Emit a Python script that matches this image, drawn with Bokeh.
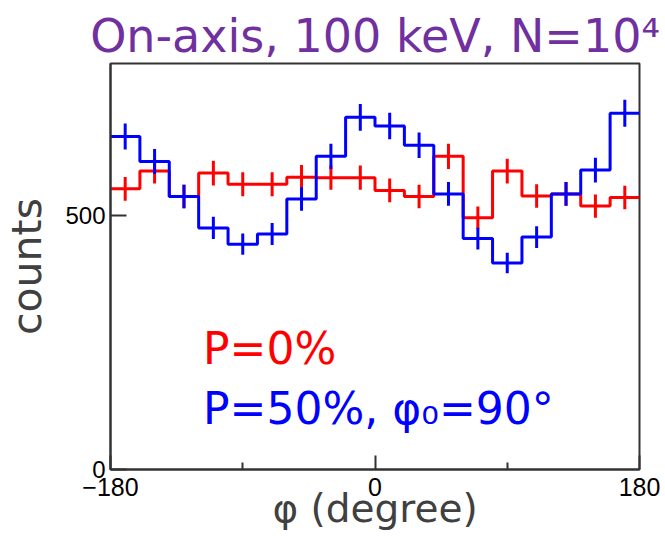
import numpy as np
from bokeh.plotting import figure
from bokeh.models import Range1d, FixedTicker, Label
from bokeh.embed import file_html
from bokeh.resources import INLINE

# ---- data ----
bin_edges = list(range(-180, 181, 20))          # 18 bins of 20 degrees
counts_p0 = [553, 588, 538, 584, 562, 562, 576, 575, 575, 550,
             538, 617, 496, 588, 539, 543, 519, 536]
counts_p50 = [656, 607, 538, 476, 444, 464, 533, 617, 694, 677,
              639, 543, 455, 407, 458, 543, 590, 702]
x_ticks = [-180, 0, 180]
x_minor = [-90, 90]
y_ticks = [0, 500]

TITLE = "On-axis, 100 keV, N=10\u2074"
XLABEL = "\u03c6 (degree)"
YLABEL = "counts"
LEG1 = "P=0%"
LEG2 = "P=50%, \u03c6\u2080=90\u00b0"

FONT = "DejaVu Sans"

p = figure(width=665, height=537, output_backend="svg", toolbar_location=None,
           x_range=Range1d(-180, 180), y_range=Range1d(0, 800),
           min_border_left=110, min_border_right=26, min_border_top=63,
           min_border_bottom=68)
p.background_fill_color = "white"
p.border_fill_color = "white"
p.xgrid.visible = False
p.ygrid.visible = False
p.outline_line_color = "#333333"
p.outline_line_width = 2

# title
p.title.text = TITLE
p.title.align = "center"
p.title.text_font = FONT
p.title.text_font_size = "46px"
p.title.text_font_style = "normal"
p.title.text_color = "#7030a0"
p.title.standoff = 2

edges = np.array(bin_edges, dtype=float)
centers = (edges[:-1] + edges[1:]) / 2


def draw_hist(vals, color):
    v = np.array(vals, dtype=float)
    err = np.sqrt(v)
    p.step(edges, np.append(v, v[-1]), mode="after", line_color=color,
           line_width=3)
    p.segment(centers, v - err, centers, v + err, line_color=color,
              line_width=3)


draw_hist(counts_p0, "#ff0000")
draw_hist(counts_p50, "#0000ff")

# axes
xa = p.xaxis[0]
xa.ticker = FixedTicker(ticks=x_ticks, minor_ticks=x_minor)
xa.major_label_overrides = {-180: "\u2212180", 0: "0", 180: "180"}
xa.major_tick_in = 14
xa.major_tick_out = 0
xa.minor_tick_in = 7
xa.minor_tick_out = 0
xa.major_label_standoff = 8
xa.major_label_text_font = "Liberation Sans"
xa.major_label_text_font_size = "25px"
xa.major_label_text_color = "black"
xa.axis_line_color = "#333333"
xa.axis_line_width = 2
xa.major_tick_line_color = "#333333"
xa.major_tick_line_width = 2
xa.minor_tick_line_color = "#333333"
xa.minor_tick_line_width = 2
xa.axis_label = XLABEL
xa.axis_label_text_font = FONT
xa.axis_label_text_font_style = "normal"
xa.axis_label_text_font_size = "39px"
xa.axis_label_text_color = "#404040"
xa.axis_label_standoff = -13

ya = p.yaxis[0]
ya.ticker = FixedTicker(ticks=y_ticks, minor_ticks=[])
ya.major_tick_in = 16
ya.major_tick_out = 0
ya.major_label_standoff = 5
ya.major_label_text_font = "Liberation Sans"
ya.major_label_text_font_size = "24px"
ya.major_label_text_color = "black"
ya.axis_line_color = "#333333"
ya.axis_line_width = 2
ya.major_tick_line_color = "#333333"
ya.major_tick_line_width = 2
ya.axis_label = YLABEL
ya.axis_label_text_font = FONT
ya.axis_label_text_font_style = "normal"
ya.axis_label_text_font_size = "41px"
ya.axis_label_text_color = "#404040"
ya.axis_label_standoff = 11

# legend texts
p.add_layout(Label(x=-117, y=238, text=LEG1, text_align="left",
                   text_baseline="alphabetic", text_font=FONT,
                   text_font_size="44px", text_color="#ff0000"))
p.add_layout(Label(x=-117, y=120, text=LEG2, text_align="left",
                   text_baseline="alphabetic", text_font=FONT,
                   text_font_size="44px", text_color="#0000ff"))

open("out.html", "w").write(file_html(p, INLINE))
